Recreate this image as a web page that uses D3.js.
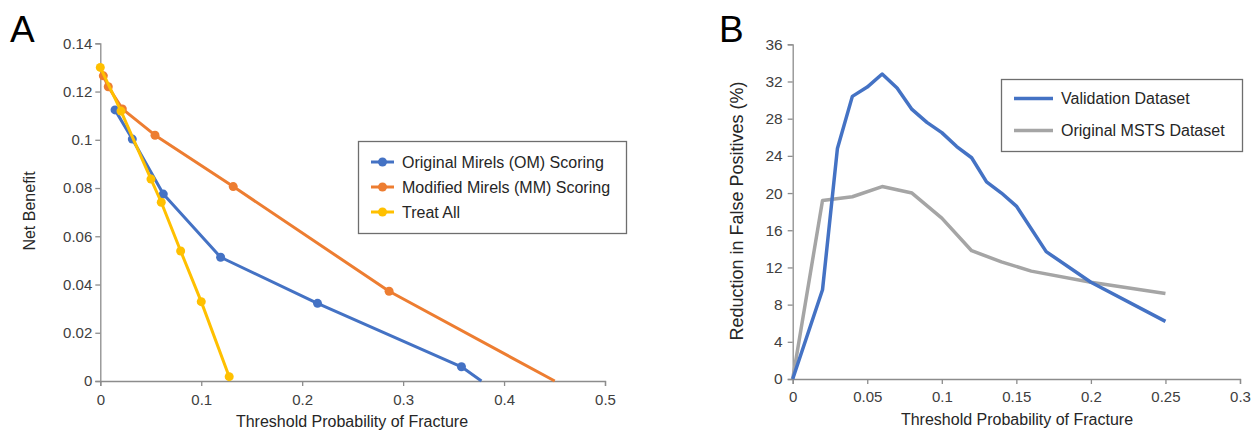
<!DOCTYPE html>
<html>
<head>
<meta charset="utf-8">
<script src="https://cdn.jsdelivr.net/npm/d3@7"></script>
<style>
  body { margin: 0; background: #fff; }
  svg { font-family: 'Liberation Sans', Arial, sans-serif; }
  .tick text { fill: #404040; font-size: 15px; }
  .domain, .tick line { stroke: #8c8c8c; stroke-width: 1.3px; }
</style>
</head>
<body>
<div id="chart"></div>
<script>
// panel A: decision curves (threshold probability, net benefit)
const omX = [0.0146, 0.0317, 0.0624, 0.1192, 0.2152, 0.3578, 0.3776];
const omY = [0.1124, 0.1003, 0.0775, 0.0513, 0.0322, 0.0059, 0];
const mmX = [0.003, 0.0079, 0.0218, 0.0542, 0.1317, 0.2861, 0.4502];
const mmY = [0.1265, 0.122, 0.1128, 0.1019, 0.0806, 0.0372, 0];
const allX = [0, 0.0205, 0.0502, 0.0604, 0.0796, 0.1, 0.1277];
const allY = [0.13, 0.1119, 0.0837, 0.0741, 0.0539, 0.0329, 0.0018];
const aXTicks = [0, 0.1, 0.2, 0.3, 0.4, 0.5];
const aYTicks = [0, 0.02, 0.04, 0.06, 0.08, 0.1, 0.12, 0.14];

// panel B: reduction in false positives (%)
const valX = [0, 0.02, 0.03, 0.04, 0.05, 0.06, 0.07, 0.08, 0.09, 0.10, 0.11, 0.12, 0.13, 0.14, 0.15, 0.17, 0.20, 0.25];
const valY = [0, 9.6, 24.8, 30.4, 31.4, 32.8, 31.3, 29.0, 27.6, 26.5, 25.0, 23.8, 21.2, 20.0, 18.6, 13.7, 10.4, 6.2];
const mstsX = [0, 0.02, 0.04, 0.06, 0.08, 0.10, 0.12, 0.14, 0.16, 0.20, 0.25];
const mstsY = [0, 19.2, 19.6, 20.7, 20.0, 17.3, 13.8, 12.6, 11.6, 10.4, 9.2];
const bXTicks = [0, 0.05, 0.1, 0.15, 0.2, 0.25, 0.3];
const bYTicks = [0, 4, 8, 12, 16, 20, 24, 28, 32, 36];

const seriesA = [
  {name: 'Original Mirels (OM) Scoring', xs: omX, ys: omY, color: '#4472C4'},
  {name: 'Modified Mirels (MM) Scoring', xs: mmX, ys: mmY, color: '#ED7D31'},
  {name: 'Treat All', xs: allX, ys: allY, color: '#FFC000'}
];
const seriesB = [
  {name: 'Validation Dataset', xs: valX, ys: valY, color: '#4472C4'},
  {name: 'Original MSTS Dataset', xs: mstsX, ys: mstsY, color: '#A5A5A5'}
];

const svg = d3.select('#chart').append('svg')
    .attr('width', 1252)
    .attr('height', 430);

const zip = (xs, ys) => xs.map((x, i) => [x, ys[i]]);
const fmt = d => d === 0 ? '0' : String(d);

// ---------- panel A ----------
const xA = d3.scaleLinear().domain([0, 0.5]).range([100.3, 605]);
const yA = d3.scaleLinear().domain([0, 0.14]).range([381, 43.3]);

svg.append('g')
    .attr('transform', `translate(0,${yA(0)})`)
    .call(d3.axisBottom(xA).tickValues(aXTicks).tickFormat(fmt).tickSize(5).tickPadding(5))
    .call(g => g.selectAll('.tick text').attr('dy', '0.9em'));
svg.append('g')
    .attr('transform', `translate(${xA(0)},0)`)
    .call(d3.axisLeft(yA).tickValues(aYTicks).tickFormat(fmt).tickSize(5).tickPadding(3));

const lineA = d3.line().x(d => xA(d[0])).y(d => yA(d[1]));
seriesA.forEach(s => {
  const pts = zip(s.xs, s.ys);
  svg.append('path')
      .attr('d', lineA(pts))
      .attr('fill', 'none')
      .attr('stroke', s.color)
      .attr('stroke-width', 3)
      .attr('stroke-linejoin', 'round');
  svg.append('g').selectAll('circle')
      .data(pts.filter(d => d[1] > 0))
      .join('circle')
      .attr('cx', d => xA(d[0]))
      .attr('cy', d => yA(d[1]))
      .attr('r', 4.5)
      .attr('fill', s.color);
});

svg.append('text')
    .attr('x', 10).attr('y', 42)
    .style('font-size', '37px')
    .text('A');
svg.append('text')
    .attr('transform', 'translate(35,211) rotate(-90)')
    .attr('text-anchor', 'middle')
    .style('font-size', '16px').attr('fill', '#262626')
    .text('Net Benefit');
svg.append('text')
    .attr('x', 352).attr('y', 427)
    .attr('text-anchor', 'middle')
    .style('font-size', '16px').attr('fill', '#262626')
    .text('Threshold Probability of Fracture');

const legA = svg.append('g');
legA.append('rect')
    .attr('x', 358.5).attr('y', 141.5).attr('width', 268).attr('height', 92)
    .attr('fill', '#fff').attr('stroke', '#6e6e6e').attr('stroke-width', 1.3);
seriesA.forEach((s, i) => {
  const y = 162 + i * 25;
  legA.append('line')
      .attr('x1', 371).attr('x2', 394).attr('y1', y).attr('y2', y)
      .attr('stroke', s.color).attr('stroke-width', 3);
  legA.append('circle').attr('cx', 382.5).attr('cy', y).attr('r', 4.5).attr('fill', s.color);
  legA.append('text')
      .attr('x', 402).attr('y', y).attr('dy', '0.35em')
      .style('font-size', '16px').attr('fill', '#262626')
      .text(s.name);
});

// ---------- panel B ----------
const xB = d3.scaleLinear().domain([0, 0.3]).range([792.7, 1240]);
const yB = d3.scaleLinear().domain([0, 36]).range([379, 44.3]);

svg.append('g')
    .attr('transform', `translate(0,${yB(0)})`)
    .call(d3.axisBottom(xB).tickValues(bXTicks).tickFormat(fmt).tickSize(5).tickPadding(5))
    .call(g => g.selectAll('.tick text').attr('dy', '0.85em'));
svg.append('g')
    .attr('transform', `translate(${xB(0)},0)`)
    .call(d3.axisLeft(yB).tickValues(bYTicks).tickFormat(fmt).tickSize(5).tickPadding(5))
    .call(g => g.selectAll('.tick text').style('font-size', '15.5px'));

const lineB = d3.line().x(d => xB(d[0])).y(d => yB(d[1]));
// grey first so the blue sits on top
[seriesB[1], seriesB[0]].forEach(s => {
  svg.append('path')
      .attr('d', lineB(zip(s.xs, s.ys)))
      .attr('fill', 'none')
      .attr('stroke', s.color)
      .attr('stroke-width', 3.5)
      .attr('stroke-linejoin', 'round');
});

svg.append('text')
    .attr('x', 719).attr('y', 42)
    .style('font-size', '37px')
    .text('B');
svg.append('text')
    .attr('transform', 'translate(743,211) rotate(-90)')
    .attr('text-anchor', 'middle')
    .style('font-size', '18px').attr('fill', '#262626')
    .text('Reduction in False Positives (%)');
svg.append('text')
    .attr('x', 1017).attr('y', 425)
    .attr('text-anchor', 'middle')
    .style('font-size', '16px').attr('fill', '#262626')
    .text('Threshold Probability of Fracture');

const legB = svg.append('g');
legB.append('rect')
    .attr('x', 1001.5).attr('y', 79.5).attr('width', 241).attr('height', 72)
    .attr('fill', '#fff').attr('stroke', '#6e6e6e').attr('stroke-width', 1.3);
seriesB.forEach((s, i) => {
  const y = 98.5 + i * 32;
  legB.append('line')
      .attr('x1', 1014).attr('x2', 1053).attr('y1', y).attr('y2', y)
      .attr('stroke', s.color).attr('stroke-width', 3.5);
  legB.append('text')
      .attr('x', 1061).attr('y', y).attr('dy', '0.35em')
      .style('font-size', '16px').attr('fill', '#262626')
      .text(s.name);
});
</script>
</body>
</html>
